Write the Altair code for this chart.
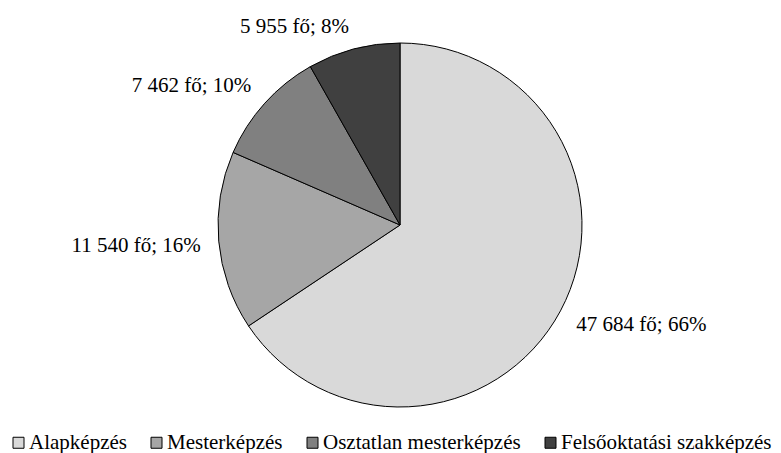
import altair as alt
import pandas as pd

categories = ["Alapképzés", "Mesterképzés", "Osztatlan mesterképzés", "Felsőoktatási szakképzés"]
values = [47684, 11540, 7462, 5955]
colors = ["#d9d9d9", "#a6a6a6", "#808080", "#404040"]

total = sum(values)
labels = [f"{v:,}".replace(",", " ") + f" fő; {round(v / total * 100)}%" for v in values]

df = pd.DataFrame({"cat": categories, "value": values, "idx": list(range(len(values))), "label": labels})

FONT = "Liberation Serif"
theta_scale = alt.Scale(domain=[0, total])
SHIFT = 9.5  # pie sits a little right of the chart's centre

color = alt.Color(
    "cat:N",
    scale=alt.Scale(domain=categories, range=colors),
    sort=categories,
    legend=alt.Legend(
        title=None, orient="none", direction="horizontal",
        legendX=0, legendY=424,
        symbolType="square", symbolSize=121,
        symbolStrokeColor="black", symbolStrokeWidth=1,
        labelOffset=0, columnPadding=19, padding=0, labelLimit=400,
    ),
)

base = alt.Chart(df)

pie = base.mark_arc(outerRadius=182, stroke="black", strokeWidth=1, xOffset=SHIFT).encode(
    theta=alt.Theta("value:Q", stack=True, scale=theta_scale),
    color=color,
    order=alt.Order("idx:Q"),
)

text_base = base.transform_window(
    cum="sum(value)", sort=[alt.SortField("idx")], frame=[None, 0]
).transform_calculate(mid="datum.cum - datum.value / 2")


def label_layer(cond, align, dy):
    return text_base.transform_filter(cond).mark_text(
        align=align, baseline="middle", radius=200, dy=dy, xOffset=SHIFT,
        fontSize=21, color="black"
    ).encode(theta=alt.Theta("mid:Q", stack=None, scale=theta_scale), text="label:N")


half, three_q = total / 2, total * 3 / 4
right = label_layer(f"datum.mid < {half}", "left", 6)
left_low = label_layer(f"datum.mid >= {half} && datum.mid < {three_q}", "right", 3)
left_up = label_layer(f"datum.mid >= {three_q}", "right", -5)

chart = alt.layer(pie, right, left_low, left_up).properties(
    width=765, height=434,
    padding={"left": 0, "top": 0, "right": 0, "bottom": 11},
    autosize=alt.AutoSizeParams(type="none"),
).configure(font=FONT).configure_view(stroke=None).configure_text(
    font=FONT, fontSize=21, color="black"
).configure_legend(
    labelFont=FONT, labelFontSize=21, labelColor="black"
)

chart.save("out.html", embed_options={"renderer": "svg", "actions": False})
